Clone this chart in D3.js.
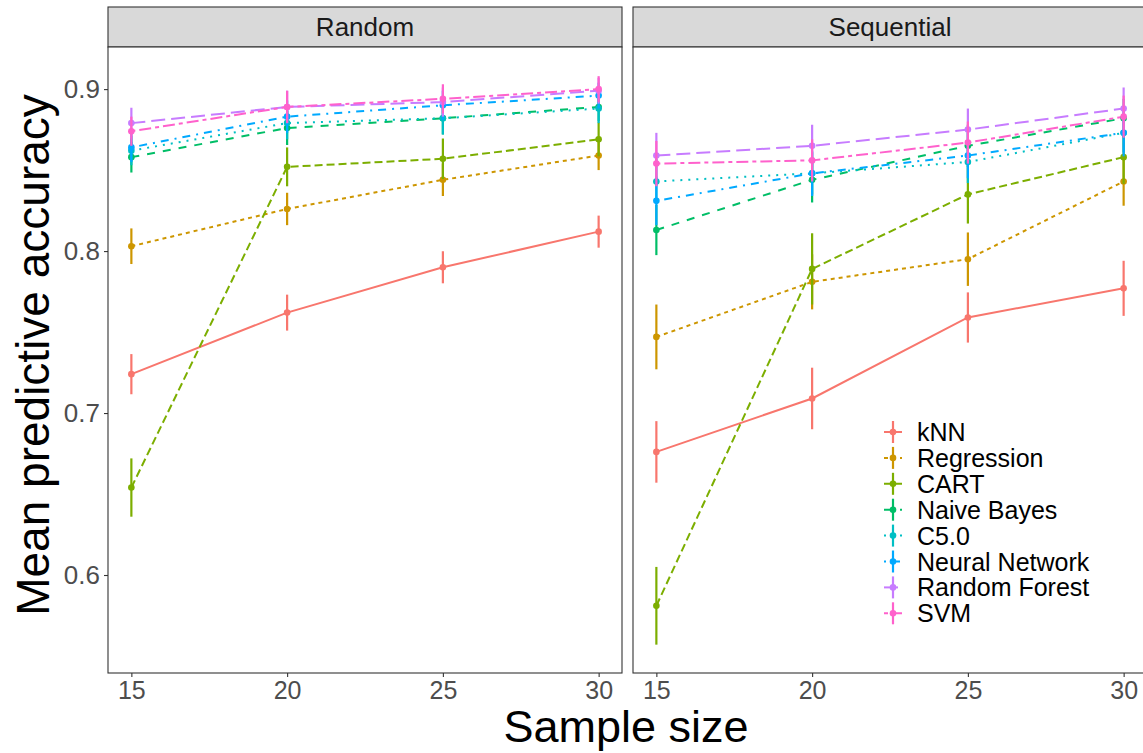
<!DOCTYPE html>
<html>
<head>
<meta charset="utf-8">
<script src="https://cdn.jsdelivr.net/npm/d3@7"></script>
<style>
  html, body { margin: 0; padding: 0; background: #fff; overflow: hidden; }
  text { font-family: "Liberation Sans", Arial, Helvetica, sans-serif; }
</style>
</head>
<body>
<svg id="chart" width="1143" height="753"></svg>
<script>
// ---------- data ----------
const sampleSizes = [15, 20, 25, 30];
const panels = ["Random", "Sequential"];
const methods = ["kNN", "Regression", "CART", "Naive Bayes", "C5.0", "Neural Network", "Random Forest", "SVM"];
const yTicks = [0.6, 0.7, 0.8, 0.9];

// mean accuracy, Random sampling
const randomKNN  = [0.724, 0.762, 0.790, 0.812];
const randomReg  = [0.803, 0.826, 0.844, 0.859];
const randomCART = [0.654, 0.852, 0.857, 0.869];
const randomNB   = [0.858, 0.876, 0.882, 0.889];
const randomC50  = [0.862, 0.879, 0.882, 0.888];
const randomNN   = [0.864, 0.883, 0.890, 0.896];
const randomRF   = [0.879, 0.889, 0.892, 0.899];
const randomSVM  = [0.874, 0.889, 0.894, 0.900];
// error half-widths, Random
const randomKNNErr  = [0.0124, 0.0111, 0.0099, 0.0099];
const randomRegErr  = [0.0110, 0.0100, 0.0100, 0.0090];
const randomCARTErr = [0.0180, 0.0120, 0.0125, 0.0105];
const randomNBErr   = [0.0095, 0.0105, 0.0100, 0.0090];
const randomC50Err  = [0.0090, 0.0100, 0.0100, 0.0090];
const randomNNErr   = [0.0090, 0.0100, 0.0090, 0.0080];
const randomRFErr   = [0.0095, 0.0100, 0.0090, 0.0080];
const randomSVMErr  = [0.0090, 0.0100, 0.0090, 0.0080];

// mean accuracy, Sequential sampling
const seqKNN  = [0.676, 0.709, 0.759, 0.777];
const seqReg  = [0.747, 0.781, 0.795, 0.843];
const seqCART = [0.581, 0.789, 0.835, 0.858];
const seqNB   = [0.813, 0.844, 0.865, 0.882];
const seqC50  = [0.843, 0.848, 0.855, 0.873];
const seqNN   = [0.831, 0.848, 0.859, 0.873];
const seqRF   = [0.859, 0.865, 0.875, 0.888];
const seqSVM  = [0.854, 0.856, 0.867, 0.883];
// error half-widths, Sequential
const seqKNNErr  = [0.0190, 0.0190, 0.0155, 0.0170];
const seqRegErr  = [0.0200, 0.0170, 0.0165, 0.0150];
const seqCARTErr = [0.0240, 0.0220, 0.0180, 0.0165];
const seqNBErr   = [0.0155, 0.0140, 0.0130, 0.0120];
const seqC50Err  = [0.0140, 0.0130, 0.0130, 0.0120];
const seqNNErr   = [0.0150, 0.0140, 0.0140, 0.0145];
const seqRFErr   = [0.0140, 0.0130, 0.0130, 0.0130];
const seqSVMErr  = [0.0140, 0.0130, 0.0130, 0.0130];

const palette = ["#F8766D", "#CD9600", "#7CAE00", "#00BE67", "#00BFC4", "#00A9FF", "#C77CFF", "#FF61CC"];
const dashes  = ["", "4,4", "8,4", "8,8", "2,6", "2,6,8,6", "14,6", "4,4,12,4"];

const panelData = {
  Random: {
    means: [randomKNN, randomReg, randomCART, randomNB, randomC50, randomNN, randomRF, randomSVM],
    errs:  [randomKNNErr, randomRegErr, randomCARTErr, randomNBErr, randomC50Err, randomNNErr, randomRFErr, randomSVMErr]
  },
  Sequential: {
    means: [seqKNN, seqReg, seqCART, seqNB, seqC50, seqNN, seqRF, seqSVM],
    errs:  [seqKNNErr, seqRegErr, seqCARTErr, seqNBErr, seqC50Err, seqNNErr, seqRFErr, seqSVMErr]
  }
};

// ---------- layout ----------
const svg = d3.select("#chart");
const panelTop = 47, panelBottom = 673, stripTop = 7;
const panelLefts = [108, 633];
const panelW = 514;

const color = d3.scaleOrdinal().domain(methods).range(palette);
const dash = d3.scaleOrdinal().domain(methods).range(dashes);

const y = d3.scaleLinear().domain([0.5395, 0.926]).range([panelBottom, panelTop]);

panels.forEach((p, pi) => {
  const x0 = panelLefts[pi];
  const x = d3.scaleLinear().domain([14.25, 30.75]).range([x0, x0 + panelW]);
  const g = svg.append("g");

  // strip
  g.append("rect").attr("x", x0).attr("y", stripTop).attr("width", panelW).attr("height", panelTop - stripTop)
    .attr("fill", "#D9D9D9").attr("stroke", "#333333").attr("stroke-width", 1.1);
  g.append("text").attr("x", x0 + panelW / 2).attr("y", (stripTop + panelTop) / 2 + 9)
    .attr("text-anchor", "middle").attr("font-size", 26).attr("fill", "#1A1A1A").text(p);

  // panel background
  g.append("rect").attr("x", x0).attr("y", panelTop).attr("width", panelW).attr("height", panelBottom - panelTop)
    .attr("fill", "#fff");

  const clipId = "clip" + pi;
  svg.append("clipPath").attr("id", clipId).append("rect")
    .attr("x", x0).attr("y", panelTop).attr("width", panelW).attr("height", panelBottom - panelTop);
  const plot = g.append("g").attr("clip-path", `url(#${clipId})`);

  const d = panelData[p];
  const line = d3.line().x((v, i) => x(sampleSizes[i])).y(v => y(v));

  methods.forEach((m, mi) => {
    plot.append("path").datum(d.means[mi])
      .attr("d", line).attr("fill", "none")
      .attr("stroke", color(m)).attr("stroke-width", 2)
      .attr("stroke-dasharray", dash(m));
  });
  methods.forEach((m, mi) => {
    const gg = plot.append("g");
    gg.selectAll("line").data(d.means[mi]).join("line")
      .attr("x1", (v, i) => x(sampleSizes[i])).attr("x2", (v, i) => x(sampleSizes[i]))
      .attr("y1", (v, i) => y(v - d.errs[mi][i])).attr("y2", (v, i) => y(v + d.errs[mi][i]))
      .attr("stroke", color(m)).attr("stroke-width", 2.2);
    gg.selectAll("circle").data(d.means[mi]).join("circle")
      .attr("cx", (v, i) => x(sampleSizes[i])).attr("cy", v => y(v)).attr("r", 3.3)
      .attr("fill", color(m));
  });

  // panel border
  g.append("rect").attr("x", x0).attr("y", panelTop).attr("width", panelW).attr("height", panelBottom - panelTop)
    .attr("fill", "none").attr("stroke", "#333333").attr("stroke-width", 1.1);

  // x axis
  const xa = g.append("g").attr("transform", `translate(0,${panelBottom})`)
    .call(d3.axisBottom(x).tickValues(sampleSizes).tickSize(4).tickPadding(4).tickFormat(d3.format("d")));
  xa.select(".domain").remove();
  xa.selectAll(".tick line").attr("stroke", "#333333").attr("stroke-width", 1.1);
  xa.selectAll(".tick text").attr("font-size", 25).attr("fill", "#4D4D4D")
    .attr("font-family", "'Liberation Sans', Arial, sans-serif");

  if (pi === 0) {
    const ya = g.append("g").attr("transform", `translate(${x0},0)`)
      .call(d3.axisLeft(y).tickValues(yTicks).tickSize(4).tickPadding(4).tickFormat(d3.format(".1f")));
    ya.select(".domain").remove();
    ya.selectAll(".tick line").attr("stroke", "#333333").attr("stroke-width", 1.1);
    ya.selectAll(".tick text").attr("font-size", 26).attr("fill", "#4D4D4D")
      .attr("font-family", "'Liberation Sans', Arial, sans-serif");
  }
});

// axis titles
svg.append("text").attr("x", 626).attr("y", 742).attr("text-anchor", "middle")
  .attr("font-size", 45).attr("fill", "#000").text("Sample size");
svg.append("text").attr("transform", "translate(49,355) rotate(-90)").attr("text-anchor", "middle")
  .attr("font-size", 46).attr("fill", "#000").text("Mean predictive accuracy");

// legend
const legend = svg.append("g");
const legX = 893, legY0 = 432, legStep = 25.9;
methods.forEach((m, mi) => {
  const cy = legY0 + mi * legStep;
  const lg = legend.append("g");
  lg.append("line").attr("x1", legX - 9).attr("x2", legX + 9).attr("y1", cy).attr("y2", cy)
    .attr("stroke", color(m)).attr("stroke-width", 2).attr("stroke-dasharray", dash(m));
  lg.append("line").attr("x1", legX).attr("x2", legX).attr("y1", cy - 11).attr("y2", cy + 11)
    .attr("stroke", color(m)).attr("stroke-width", 2.2);
  lg.append("circle").attr("cx", legX).attr("cy", cy).attr("r", 3.3).attr("fill", color(m));
  lg.append("text").attr("x", 917).attr("y", cy + 9).attr("font-size", 25).attr("fill", "#000").text(m);
});
</script>
</body>
</html>
